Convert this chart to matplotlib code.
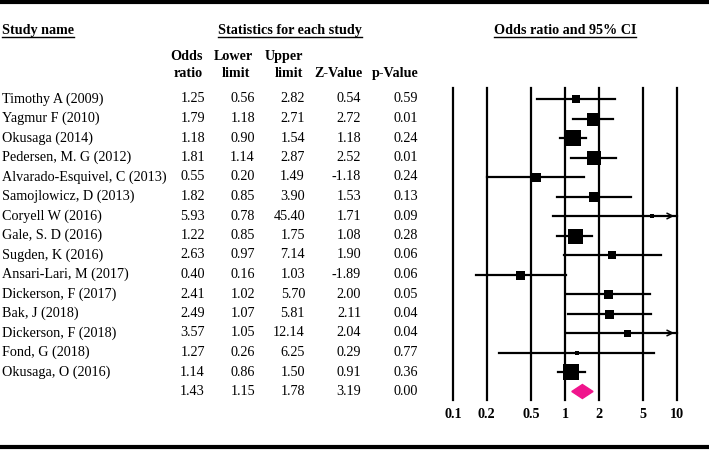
import matplotlib
matplotlib.use("Agg")
import matplotlib.pyplot as plt
import numpy as np
from matplotlib.patches import Polygon

studies = ["Timothy A (2009)", "Yagmur F (2010)", "Okusaga (2014)", "Pedersen, M. G (2012)",
           "Alvarado-Esquivel, C (2013)", "Samojlowicz, D (2013)", "Coryell W (2016)",
           "Gale, S. D (2016)", "Sugden, K (2016)", "Ansari-Lari, M (2017)", "Dickerson, F (2017)",
           "Bak, J (2018)", "Dickerson, F (2018)", "Fond, G (2018)", "Okusaga, O (2016)"]
odds = [1.25, 1.79, 1.18, 1.81, 0.55, 1.82, 5.93, 1.22, 2.63, 0.40, 2.41, 2.49, 3.57, 1.27, 1.14]
lower = [0.56, 1.18, 0.90, 1.14, 0.20, 0.85, 0.78, 0.85, 0.97, 0.16, 1.02, 1.07, 1.05, 0.26, 0.86]
upper = [2.82, 2.71, 1.54, 2.87, 1.49, 3.90, 45.40, 1.75, 7.14, 1.03, 5.70, 5.81, 12.14, 6.25, 1.50]
zval = [0.54, 2.72, 1.18, 2.52, -1.18, 1.53, 1.71, 1.08, 1.90, -1.89, 2.00, 2.11, 2.04, 0.29, 0.91]
pval = [0.59, 0.01, 0.24, 0.01, 0.24, 0.13, 0.09, 0.28, 0.06, 0.06, 0.05, 0.04, 0.04, 0.77, 0.36]
weights = [8, 13, 16, 14, 9, 10, 5, 15, 8, 9, 9, 9, 7, 5, 16]  # relative box sizes
summary = [1.43, 1.15, 1.78, 3.19, 0.00]
ticks = [0.1, 0.2, 0.5, 1, 2, 5, 10]
tick_labels = ["0.1", "0.2", "0.5", "1", "2", "5", "10"]

W, H = 709, 450
fig = plt.figure(figsize=(W / 100, H / 100), dpi=100)
plt.rcParams['font.family'] = ['Liberation Serif', 'DejaVu Serif']

tx = fig.add_axes([0, 0, 1, 1])
tx.set_xlim(0, W)
tx.set_ylim(H, 0)
tx.axis("off")

fs = 10.2
row0, dy = 99, 19.5
rows = [row0 + dy * i for i in range(len(studies))]
ysum = row0 + dy * len(studies)

# frame lines
tx.plot([0, W], [2, 2], color="black", lw=3)
tx.plot([0, W], [447, 447], color="black", lw=3)

# section headers (underlined)
heads = [(2, "Study name", "left"), (290, "Statistics for each study", "center"),
         (565, "Odds ratio and 95% CI", "center")]
htexts = [tx.text(x, 34, s, ha=ha, va="baseline", fontsize=fs, fontweight="bold")
          for x, s, ha in heads]
fig.canvas.draw()
r = fig.canvas.get_renderer()
for t in htexts:
    bb = t.get_window_extent(r)
    tx.plot([bb.x0, bb.x1], [37, 37], color="black", lw=1)

col_x = [205, 255, 305, 361, 418]
bold = dict(va="baseline", fontsize=fs, fontweight="bold", ha="right")
tx.text(203, 60, "Odds", **bold)
tx.text(203, 77, "ratio", **bold)
tx.text(253, 60, "Lower", **bold)
tx.text(250, 77, "limit", **bold)
tx.text(303, 60, "Upper", **bold)
tx.text(303, 77, "limit", **bold)
tx.text(363, 77, "Z-Value", **bold)
tx.text(419, 77, "p-Value", **bold)

for i, y in enumerate(rows):
    tx.text(2, y, studies[i], ha="left", va="center", fontsize=fs)
    for j, v in enumerate([odds[i], lower[i], upper[i], zval[i], pval[i]]):
        tx.text(col_x[j], y, f"{v:.2f}", ha="right", va="center", fontsize=fs)
for j, v in enumerate(summary):
    tx.text(col_x[j], ysum, f"{v:.2f}", ha="right", va="center", fontsize=fs)

# forest axes: 112 px per decade, 0.1 at x=453
ax_l, ax_r = 440, 690
ppd = 112.0
lo = 10 ** (-1 - (453 - ax_l) / ppd)
hi = 10 ** (1 + (ax_r - 677) / ppd)
ax = fig.add_axes([ax_l / W, 0, (ax_r - ax_l) / W, 1])
ax.set_xscale("log")
ax.set_xlim(lo, hi)
ax.set_ylim(H, 0)
ax.axis("off")

for t, lab in zip(ticks, tick_labels):
    ax.plot([t, t], [88, 400], color="black", lw=1.6, zorder=1)
    ax.text(t, 414, lab, ha="center", va="center", fontsize=fs, fontweight="bold")

for i, y in enumerate(rows):
    u = min(upper[i], 10)
    ax.plot([lower[i], u], [y, y], color="black", lw=1.6, zorder=2)
    if upper[i] > 10:
        ax.annotate("", xy=(10, y), xytext=(8, y),
                    arrowprops=dict(arrowstyle="->", color="black", lw=1.1,
                                    mutation_scale=10))
    ax.plot([odds[i]], [y], marker="s", ms=weights[i] * 0.72, color="black",
            zorder=3, lw=0, mew=0)

# summary diamond
xs = [summary[1], summary[0], summary[2], summary[0]]
ys = [ysum, ysum - 7, ysum, ysum + 7]
ax.add_patch(Polygon(list(zip(xs, ys)), closed=True, color="#F0148C", zorder=3))

fig.savefig("out.png", dpi=100)
